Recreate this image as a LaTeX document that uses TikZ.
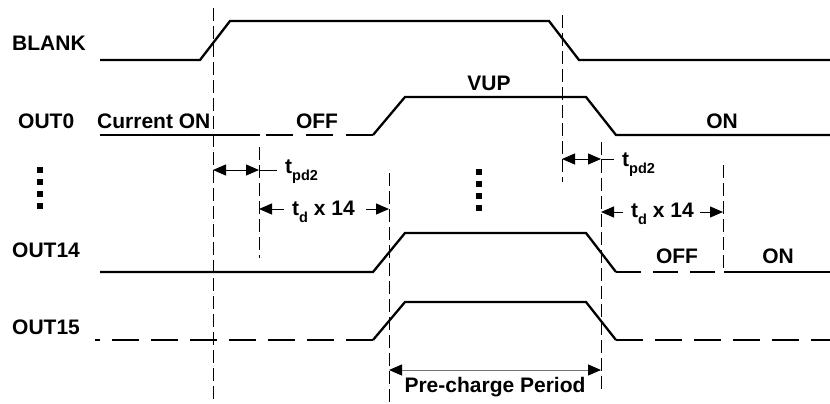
\documentclass[tikz,border=0pt]{standalone}
\usepackage{fontspec}
\setmainfont{Liberation Sans}
\usetikzlibrary{arrows.meta}

% small lowered index text for timing labels
\newcommand{\lowsub}[1]{\raisebox{-0.35em}{\fontsize{14.5}{15}\selectfont #1}}

\begin{document}
\begin{tikzpicture}[x=1pt, y=-1pt,
    sig/.style={line width=2.3pt, line join=miter},
    sigdash/.style={sig, dash pattern=on 27pt off 12pt},
    guide/.style={line width=1pt, dash pattern=on 13pt off 5pt},
    dimboth/.style={line width=1pt, {Triangle[length=13pt,width=11pt,color=black,fill=black]}-{Triangle[length=13pt,width=11pt,color=black,fill=black]}},
    dimone/.style={line width=1pt, -{Triangle[length=13pt,width=11pt]}},
    lbl/.style={font=\fontsize{21}{23}\selectfont\bfseries, inner sep=0pt},
    vdot/.style={fill, minimum size=6.5pt, inner sep=0pt},
  ]
    \useasboundingbox (0,0) rectangle (830,404);

    % Guide lines
    \draw[guide] (213,8) -- (213,404);
    \draw[guide] (562,15) -- (562,182);
    \draw[guide] (259,147) -- (259,258);
    \draw[guide] (389,173) -- (389,404);
    \draw[guide] (601,142) -- (601,390);
    \draw[guide] (723,165) -- (723,272);

    % Signal names
    \node[lbl, anchor=west] (nblank) at (12,43.5) {BLANK};
    \node[lbl, anchor=west] (nout0) at (18,121) {OUT0};
    \node[lbl, anchor=west] (nout14) at (12,250) {OUT14};
    \node[lbl, anchor=west] (nout15) at (12,327) {OUT15};

    % BLANK
    \draw[sig] (100,60) -- (200,60) -- (230,21) -- (549,21) -- (579,60) -- (830,60);

    % OUT0
    \draw[sig] (100,135) -- (260,135);
    \draw[sig, dash pattern=on 27pt off 13pt] (266,135) -- (373,135);
    \draw[sig] (373,135) -- (405,97) -- (586,97) -- (616,135) -- (830,135);
    \node[lbl, anchor=west] (curon) at (97,121) {Current ON};
    \node[lbl] (off0) at (317,121) {OFF};
    \node[lbl] (vup) at (489,83) {VUP};
    \node[lbl] (on0) at (722,121) {ON};

    % OUT14
    \draw[sig] (100,272) -- (373,272) -- (405,233) -- (586,233) -- (616,272);
    \draw[sig, dash pattern=on 25pt off 12pt] (616,272) -- (718,272);
    \draw[sig] (724,272) -- (830,272);
    \node[lbl] (off14) at (677,256) {OFF};
    \node[lbl] (on14) at (778,256) {ON};

    % OUT15
    \draw[sigdash] (373,340) -- (95,340);
    \draw[sig] (373,340) -- (405,302) -- (586,302) -- (616,340);
    \draw[sigdash] (616,340) -- (830,340);

    % Vertical dots
    \foreach \yy in {170,182,194,206} {
      \node[vdot] at (40,\yy) {};
    }
    \foreach \yy in {172,184,196,208} {
      \node[vdot] at (479,\yy) {};
    }

    % t_pd2 delays
    \draw[dimboth] (213,170) -- (259,170);
    \draw[line width=1pt] (259,170) -- (277,170);
    \node[lbl, anchor=base west] (tpdA) at (285,173) {t\lowsub{pd2}};
    \draw[dimboth] (562,159) -- (601,159);
    \draw[line width=1pt] (601,159) -- (614,159);
    \node[lbl, anchor=base west] (tpdB) at (622,166) {t\lowsub{pd2}};

    % t_d x 14 delays
    \draw[dimone] (284,209) -- (259,209);
    \draw[dimone] (366,209) -- (389,209);
    \node[lbl, anchor=base west] (tdA) at (292,215) {t\lowsub{d} x 14};
    \draw[dimone] (623,212) -- (601,212);
    \draw[dimone] (700,212) -- (723,212);
    \node[lbl, anchor=base west] (tdB) at (631,217) {t\lowsub{d} x 14};

    % Pre-charge period
    \draw[dimboth, draw=black!55] (389,370) -- (601,370);
    \node[lbl] (prech) at (495,387) {Pre-charge Period};
  \end{tikzpicture}
\end{document}
